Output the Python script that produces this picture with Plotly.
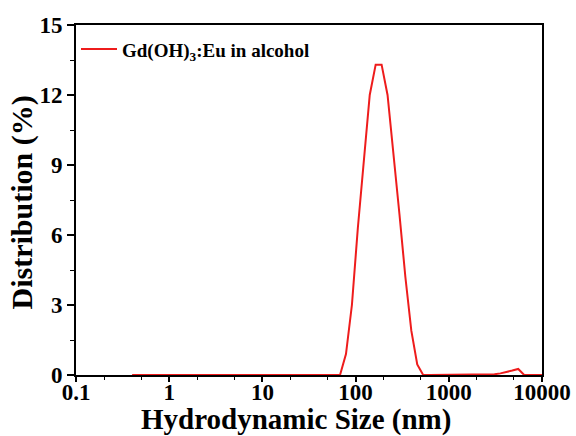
import plotly.graph_objects as go

# DLS size bins (nm)
size_nm = [0.4, 0.4632, 0.5365, 0.6213, 0.7195, 0.8332, 0.9649, 1.117, 1.294, 1.499,
           1.736, 2.010, 2.328, 2.696, 3.122, 3.615, 4.187, 4.849, 5.615, 6.503,
           7.531, 8.721, 10.10, 11.70, 13.54, 15.69, 18.17, 21.04, 24.36, 28.21,
           32.67, 37.84, 43.82, 50.75, 58.77, 68.06, 78.82, 91.28, 105.7, 122.4,
           141.8, 164.2, 190.1, 220.2, 255.0, 295.3, 342.0, 396.1, 458.7, 531.2,
           615.1, 712.4, 825.0, 955.4, 1106, 1281, 1484, 1718, 1990, 2305,
           2669, 3091, 3580, 4145, 4801, 5560, 6439, 7456, 8635, 10000]

# Distribution (%)
distribution = [0, 0, 0, 0, 0, 0, 0, 0, 0, 0,
                0, 0, 0, 0, 0, 0, 0, 0, 0, 0,
                0, 0, 0, 0, 0, 0, 0, 0, 0, 0,
                0, 0, 0, 0, 0, 0, 0.9, 3.0, 6.3, 9.3,
                12.0, 13.3, 13.3, 12.0, 9.6, 6.9, 4.2, 1.9, 0.45, 0,
                0, 0, 0, 0, 0, 0, 0, 0, 0, 0,
                0.01, 0.03, 0.07, 0.12, 0.19, 0.26, 0, 0, 0, 0]

series_name = "Gd(OH)<sub>3</sub>:Eu in alcohol"
x_title = "Hydrodynamic Size (nm)"
y_title = "Distribution (%)"
x_tickvals = [0.1, 1, 10, 100, 1000, 10000]
x_ticktext = ["0.1", "1", "10", "100", "1000", "10000"]
y_tickvals = [0, 3, 6, 9, 12, 15]

FONT = "Liberation Serif"
TITLE_FONT = dict(family=FONT, size=29, color="black", weight="bold")

fig = go.Figure()
fig.add_trace(go.Scatter(
    x=size_nm, y=distribution, mode="lines", name=series_name,
    line=dict(color="#ee1c1c", width=2),
))

fig.update_layout(
    width=576, height=436,
    margin=dict(l=76, r=34, t=25, b=61),
    paper_bgcolor="white", plot_bgcolor="white",
    font=dict(family=FONT, color="black"),
    showlegend=True,
    legend=dict(
        x=0.0, y=0.985, xanchor="left", yanchor="top",
        bgcolor="rgba(0,0,0,0)", borderwidth=0,
        font=dict(family=FONT, size=19, color="black", weight="bold"),
        itemwidth=36, tracegroupgap=0,
    ),
    annotations=[
        dict(text=x_title, xref="paper", yref="paper", x=0.472, y=-0.127,
             xanchor="center", yanchor="middle", showarrow=False, font=TITLE_FONT),
        dict(text=y_title, xref="paper", yref="paper", x=-0.115, y=0.494,
             xanchor="center", yanchor="middle", textangle=-90, showarrow=False,
             font=dict(family=FONT, size=30, color="black", weight="bold")),
    ],
)

fig.update_xaxes(
    type="log", range=[-1, 4], automargin=False,
    tickvals=x_tickvals, ticktext=x_ticktext,
    ticks="outside", ticklen=5, tickwidth=1.5, tickcolor="black",
    ticklabelstandoff=-10,
    minor=dict(ticks="outside", ticklen=3, tickwidth=1.2, tickcolor="black", showgrid=False),
    showline=True, linecolor="black", linewidth=2, mirror=True,
    showgrid=False, zeroline=False,
    tickfont=dict(family=FONT, size=23, color="black", weight="bold"),
)

fig.update_yaxes(
    range=[0, 15], automargin=False,
    tickvals=y_tickvals,
    ticks="outside", ticklen=7, tickwidth=1.5, tickcolor="black",
    minor=dict(dtick=1.5, ticks="outside", ticklen=4, tickwidth=1.2, tickcolor="black", showgrid=False),
    showline=True, linecolor="black", linewidth=2, mirror=True,
    showgrid=False, zeroline=False,
    tickfont=dict(family=FONT, size=23, color="black", weight="bold"),
)

fig.write_html("out.html")
